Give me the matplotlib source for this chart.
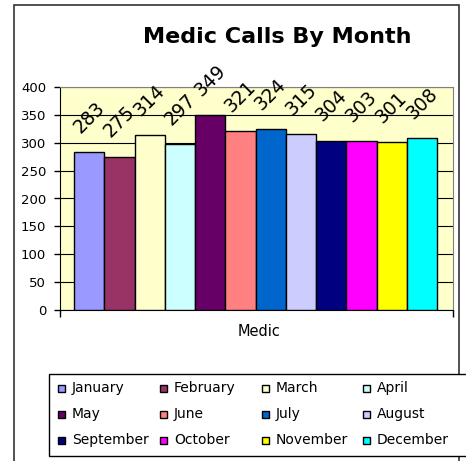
import matplotlib.pyplot as plt
from matplotlib.patches import Rectangle

months = ['January', 'February', 'March', 'April', 'May', 'June',
          'July', 'August', 'September', 'October', 'November', 'December']
calls = [283, 275, 314, 297, 349, 321, 324, 315, 304, 303, 301, 308]
colors = ['#9999FF', '#993366', '#FFFFCC', '#CCFFFF', '#660066', '#FF8080',
          '#0066CC', '#CCCCFF', '#000080', '#FF00FF', '#FFFF00', '#00FFFF']
yticks = [0, 50, 100, 150, 200, 250, 300, 350, 400]

plt.rcParams['font.family'] = ['DejaVu Sans']

W, H = 466, 461
fig = plt.figure(figsize=(W / 100, H / 100), dpi=100)


def px(x, y):
    # pixel position (from top-left) -> figure fraction
    return x / W, 1 - y / H


# outer chart border (bottom cut off by image edge)
fig.patches.append(Rectangle((14 / W, -0.05), (459 - 14) / W, 1.05 - 5 / H,
                             transform=fig.transFigure, fill=False,
                             edgecolor='#333333', linewidth=1.2))

ax = fig.add_axes([60 / W, 1 - 310 / H, (453 - 60) / W, (310 - 87) / H])
ax.set_facecolor('#FFFFCC')

x = range(len(months))
ax.bar(x, calls, width=1.0, color=colors, edgecolor='black', linewidth=1.0, zorder=3)

for i, v in enumerate(calls):
    ax.annotate(str(v), (i, v), xytext=(0, 25), textcoords='offset points',
                rotation=45, ha='center', va='center', fontsize=13.5)

ax.set_xlim(-0.97, 12.03)
ax.set_ylim(0, 400)
ax.set_yticks(yticks)
ax.tick_params(axis='y', direction='out', length=4, width=1, labelsize=9.5, pad=6)
ax.yaxis.grid(True, color='black', linewidth=0.8, zorder=0)
ax.set_axisbelow(True)

ax.set_xticks([-0.97, 12.03])
ax.set_xticklabels(['', ''])
ax.tick_params(axis='x', direction='out', length=5, width=1)
for side in ['top', 'right']:
    ax.spines[side].set_color('#808080')
ax.spines['left'].set_color('black')
ax.spines['bottom'].set_color('black')

fig.text(*px(259, 332), 'Medic', ha='center', va='center', fontsize=10.5)
fig.text(*px(277, 37), 'Medic Calls By Month', ha='center', va='center',
         fontsize=16, fontweight='bold')

# legend drawn by hand so columns sit on an even grid like the original
fig.patches.append(Rectangle(px(49, 456), (475 - 49) / W, (456 - 374) / H,
                             transform=fig.transFigure, facecolor='white',
                             edgecolor='black', linewidth=1.0))
col_x = [58, 160, 262, 363]
row_y = [388, 414, 440]
for k, (name, c) in enumerate(zip(months, colors)):
    cx = col_x[k % 4]
    cy = row_y[k // 4]
    fig.patches.append(Rectangle(px(cx, cy + 3.5), 7 / W, 7 / H,
                                 transform=fig.transFigure, facecolor=c,
                                 edgecolor='black', linewidth=1.0))
    fig.text(*px(cx + 14, cy), name, ha='left', va='center', fontsize=10)

fig.savefig('out.png', dpi=100)
